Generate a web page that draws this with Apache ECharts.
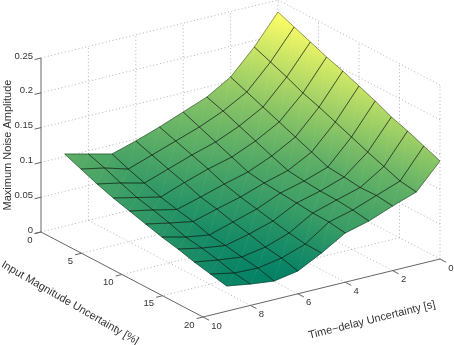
<!DOCTYPE html>
<html><head><meta charset="utf-8">
<style>html,body{margin:0;padding:0;background:#fff}#c{width:454px;height:345px}</style>
<script src="https://cdn.jsdelivr.net/npm/echarts@6/dist/echarts.min.js"></script>
</head><body><div id="c"></div>
<script>
// Data
const inputValues = [0,2,4,6,8,10,12,14,16,18,20];
const delayValues = [0,1,2,3,4,5,6,7,8,9];
const noiseDelay0 = [.2328,.2234,.2141,.2047,.1968,.1875,.1782,.1674,.1595,.1501,.1408];
const noiseDelay1 = [.1908,.1815,.1721,.1614,.1534,.1441,.1348,.1254,.1168,.1082,.1046];
const noiseDelay2 = [.156,.1467,.1374,.128,.1187,.1093,.1,.0978,.095,.0957,.0928];
const noiseDelay3 = [.1356,.1277,.1184,.1091,.0997,.0911,.0882,.0861,.0853,.0832,.0796];
const noiseDelay4 = [.1224,.1131,.1037,.0944,.0851,.0815,.0793,.0772,.075,.0743,.0707];
const noiseDelay5 = [.1092,.1013,.0934,.0855,.0761,.0697,.0647,.0596,.0546,.051,.0503];
const noiseDelay6 = [.0974,.0895,.0816,.0744,.0658,.0608,.0543,.0493,.0428,.0392,.0328];
const noiseDelay7 = [.0871,.0777,.0698,.0619,.0562,.0511,.044,.0411,.0368,.0332,.0267];
const noiseDelay8 = [.0954,.0875,.0782,.0695,.0638,.0573,.0494,.0458,.0408,.0343,.0307];
const noiseDelay9 = [.1037,.0944,.0851,.0772,.0707,.0642,.0578,.0527,.0463,.0412,.0362];
const noiseRows = [noiseDelay0,noiseDelay1,noiseDelay2,noiseDelay3,noiseDelay4,noiseDelay5,noiseDelay6,noiseDelay7,noiseDelay8,noiseDelay9];
const inputTicks = [0,5,10,15,20];
const delayTicks = [0,2,4,6,8,10];
const noiseTicks = [0,0.05,0.1,0.15,0.2,0.25];
const inputName = 'Input Magnitude Uncertainty [%]';
const delayName = 'Time\u2212delay Uncertainty [s]';
const noiseName = 'Maximum Noise Amplitude';

const inputMax = 20, delayMax = 10, noiseMax = 0.25;
const FONT = '11px "Liberation Sans", Arial, sans-serif';
const TICK_FONT = '9.5px "Liberation Sans", Arial, sans-serif';
const TEXT = '#333';

// Orthographic projection of the 3-D data box onto the view plane
function project(input, delay, noise){
  const d = delayMax - delay;
  return [41 + 8.1*input + 23.7*d, 232 + 4.25*input - 5.8*d - 696*noise];
}
const allNoise = noiseRows.flat();
const zMin = Math.min(...allNoise), zMax = Math.max(...allNoise);
function summer(z){
  const x = Math.max(0, Math.min(1, (z - zMin)/(zMax - zMin)));
  return 'rgb(' + Math.round(255*x) + ',' + Math.round(255*(0.5 + x/2)) + ',102)';
}
function triFill(p, z){
  const ax = p[1][0]-p[0][0], ay = p[1][1]-p[0][1], bx = p[2][0]-p[0][0], by = p[2][1]-p[0][1];
  const dz1 = z[1]-z[0], dz2 = z[2]-z[0], det = ax*by - ay*bx;
  if (Math.abs(det) < 1e-6) return summer(z[0]);
  const gx = (dz1*by - dz2*ay)/det, gy = (ax*dz2 - bx*dz1)/det, g2 = gx*gx + gy*gy;
  if (g2 < 1e-14) return summer(z[0]);
  const lo = Math.min(z[0],z[1],z[2]), hi = Math.max(z[0],z[1],z[2]);
  return {type:'linear', global:true,
    x: p[0][0] + gx*(lo-z[0])/g2, y: p[0][1] + gy*(lo-z[0])/g2,
    x2: p[0][0] + gx*(hi-z[0])/g2, y2: p[0][1] + gy*(hi-z[0])/g2,
    colorStops:[{offset:0,color:summer(lo)},{offset:1,color:summer(hi)}]};
}

// Quads, far ones first
const quads = [];
for (let t=0;t<delayValues.length-1;t++) for (let a=0;a<inputValues.length-1;a++) quads.push([a,t]);
quads.sort((q,r)=>(q[0]+q[1])-(r[0]+r[1]));

function quadPoints(index, api){
  const [a,t] = quads[index];
  const idx = [[a,t],[a+1,t],[a+1,t+1],[a,t+1]];
  const z = idx.map(q=>noiseRows[q[1]][q[0]]);
  const pts = idx.map((q,k)=>api.coord(project(inputValues[q[0]], delayValues[q[1]], z[k])));
  return {z, pts};
}
function renderQuad(params, api){
  const {z, pts} = quadPoints(params.dataIndex, api);
  const tri = (i,j,k)=>{
    const f = triFill([pts[i],pts[j],pts[k]],[z[i],z[j],z[k]]);
    return {type:'polygon', shape:{points:[pts[i],pts[j],pts[k]]}, style:{fill:f, stroke:f, lineWidth:0.6}};
  };
  return {type:'group', children:[tri(0,1,2), tri(0,2,3)]};
}
function renderMesh(params, api){
  const {pts} = quadPoints(params.dataIndex, api);
  return {type:'polygon', shape:{points:pts}, style:{fill:'none', stroke:'rgba(10,20,10,0.6)', lineWidth:0.7}};
}

// Dotted grid on the floor and the two back walls
const gridSegs = [];
noiseTicks.forEach(n=>{
  gridSegs.push([[0,delayMax,n],[0,0,n]]);
  gridSegs.push([[0,0,n],[inputMax,0,n]]);
});
delayTicks.forEach(d=>{
  if (d!==delayMax) gridSegs.push([[0,d,0],[0,d,noiseMax]]);
  if (d!==delayMax && d!==0) gridSegs.push([[0,d,0],[inputMax,d,0]]);
});
inputTicks.forEach(i=>{
  if (i!==0) gridSegs.push([[i,0,0],[i,0,noiseMax]]);
  if (i!==0 && i!==inputMax) gridSegs.push([[i,0,0],[i,delayMax,0]]);
});
function renderGrid(params, api){
  const s = gridSegs[params.dataIndex];
  const p = api.coord(project(...s[0])), q = api.coord(project(...s[1]));
  return {type:'line', shape:{x1:p[0],y1:p[1],x2:q[0],y2:q[1]},
    style:{stroke:'#b4b4b4', lineWidth:1, lineDash:[1,2.5], fill:null}};
}

// Solid axis lines, tick marks and tick labels
const axisSegs = [
  [[0,delayMax,0],[0,delayMax,noiseMax]],
  [[0,delayMax,0],[inputMax,delayMax,0]],
  [[inputMax,delayMax,0],[inputMax,0,0]]
];
const tI = 0.75, tD = 0.27;
noiseTicks.forEach(n=>axisSegs.push([[0,delayMax,n],[0,delayMax+tD,n]]));
inputTicks.forEach(i=>axisSegs.push([[i,delayMax,0],[i,delayMax+tD,0]]));
delayTicks.forEach(d=>axisSegs.push([[inputMax,d,0],[inputMax+tI,d,0]]));
function renderAxis(params, api){
  const s = axisSegs[params.dataIndex];
  const p = api.coord(project(...s[0])), q = api.coord(project(...s[1]));
  return {type:'line', shape:{x1:p[0],y1:p[1],x2:q[0],y2:q[1]},
    style:{stroke:'#666', lineWidth:1, fill:null}};
}
const labels = [];
noiseTicks.forEach(n=>labels.push({text:String(n), at:[0,delayMax,n], dx:-8, dy:-2, align:'right'}));
inputTicks.forEach(i=>labels.push({text:String(i), at:[i,delayMax,0], dx:-8.5, dy:8, align:'right'}));
delayTicks.forEach(d=>labels.push({text:String(d), at:[inputMax,d,0], dx:8.3, dy:9, align:'left'}));
function renderLabel(params, api){
  const l = labels[params.dataIndex];
  const p = api.coord(project(...l.at));
  return {type:'text', style:{text:l.text, x:p[0]+l.dx, y:p[1]+l.dy, fill:TEXT, font:TICK_FONT,
    textAlign:l.align, textVerticalAlign:'middle'}};
}
const base = {type:'custom', coordinateSystem:'cartesian2d', silent:true, clip:false, animation:false};
const chart = echarts.init(document.getElementById('c'), null, {renderer:'canvas', width:454, height:345});
chart.setOption({
  animation:false,
  backgroundColor:'#fff',
  grid:{left:0,right:0,top:0,bottom:0},
  xAxis:{type:'value',min:0,max:454,show:false},
  yAxis:{type:'value',min:0,max:345,inverse:true,show:false},
  series:[
    Object.assign({},base,{z:1,renderItem:renderGrid,data:gridSegs.map((_,i)=>[i])}),
    Object.assign({},base,{z:2,renderItem:renderAxis,data:axisSegs.map((_,i)=>[i])}),
    Object.assign({},base,{z:3,renderItem:renderQuad,data:quads.map((_,i)=>[i])}),
    Object.assign({},base,{z:4,renderItem:renderMesh,data:quads.map((_,i)=>[i])}),
    Object.assign({},base,{z:5,renderItem:renderLabel,data:labels.map((_,i)=>[i])})
  ],
  graphic:[
    {type:'text',x:8,y:145,rotation:Math.PI/2,silent:true,style:{text:noiseName,fill:TEXT,font:FONT,textAlign:'center',textVerticalAlign:'middle'}},
    {type:'text',x:70,y:303,rotation:-30*Math.PI/180,silent:true,style:{text:inputName,fill:TEXT,font:FONT,textAlign:'center',textVerticalAlign:'middle'}},
    {type:'text',x:372,y:320,rotation:14*Math.PI/180,silent:true,style:{text:delayName,fill:TEXT,font:FONT,textAlign:'center',textVerticalAlign:'middle'}}
  ]
});
</script></body></html>
